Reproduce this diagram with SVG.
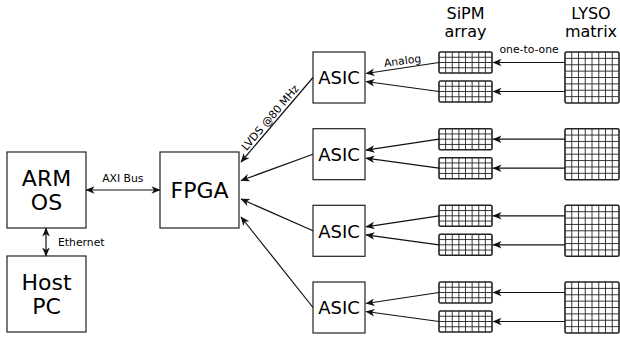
<svg xmlns="http://www.w3.org/2000/svg" xmlns:xlink="http://www.w3.org/1999/xlink" width="620" height="337" viewBox="0 0 620 337">
<style>
.box{fill:#fff;stroke:#222;stroke-width:1.2}
.big{font-family:"DejaVu Sans",sans-serif;font-size:22px;fill:#000;text-anchor:middle}
.mid{font-family:"DejaVu Sans",sans-serif;font-size:18px;fill:#000;text-anchor:middle}
.ttl{font-family:"DejaVu Sans",sans-serif;font-size:16px;fill:#000;text-anchor:middle}
.sm{font-family:"DejaVu Sans",sans-serif;font-size:10.8px;fill:#000}
.c{fill:none;stroke:#111;stroke-width:1.2}
.grid{fill:none;stroke:#222;stroke-width:0.9}
.frame{fill:none;stroke:#222;stroke-width:1.6}
</style>
<defs>
<marker id="ah" viewBox="-10 -5 11 10" refX="0" refY="0" markerWidth="11" markerHeight="10" markerUnits="userSpaceOnUse" orient="auto-start-reverse">
<path d="M0.5,0 L-8.5,-3.8 L-6,0 L-8.5,3.8 Z" fill="#111"/>
</marker>
<g id="sipm">
<path class="grid" d="M6.625,0V21M13.25,0V21M19.875,0V21M26.5,0V21M33.125,0V21M39.75,0V21M46.375,0V21M0,5.25H53M0,10.5H53M0,15.75H53"/>
<rect class="frame" x="0" y="0" width="53" height="21" rx="1.5"/>
</g>
<g id="lyso">
<path class="grid" d="M6.75,0V51M13.5,0V51M20.25,0V51M27,0V51M33.75,0V51M40.5,0V51M47.25,0V51M0,6.375H54M0,12.75H54M0,19.125H54M0,25.5H54M0,31.875H54M0,38.25H54M0,44.625H54"/>
<rect class="frame" x="0" y="0" width="54" height="51" rx="1.5"/>
</g>
</defs>
<rect width="620" height="337" fill="#fff"/>

<g id="arm"><rect class="box" x="7" y="152" width="79" height="76"/><text class="big" x="46.5" y="185.5">ARM</text><text class="big" x="46.5" y="210">OS</text></g>
<g id="host"><rect class="box" x="7" y="256" width="79" height="76"/><text class="big" x="46.5" y="290">Host</text><text class="big" x="46.5" y="313.5">PC</text></g>
<g id="fpga"><rect class="box" x="160" y="152" width="79" height="76"/><text class="big" x="199.5" y="198">FPGA</text></g>

<g id="asic1"><rect class="box" x="313" y="52" width="52" height="51"/><text class="mid" x="339" y="84.3">ASIC</text></g>
<g id="asic2"><rect class="box" x="313" y="128.7" width="52" height="51"/><text class="mid" x="339" y="161">ASIC</text></g>
<g id="asic3"><rect class="box" x="313" y="205.3" width="52" height="51"/><text class="mid" x="339" y="237.6">ASIC</text></g>
<g id="asic4"><rect class="box" x="313" y="282" width="52" height="51"/><text class="mid" x="339" y="314.3">ASIC</text></g>

<g id="sipm-title"><text class="ttl" x="465.5" y="18.5">SiPM</text><text class="ttl" x="465.5" y="36.5">array</text></g>
<g id="lyso-title"><text class="ttl" x="591" y="18.5">LYSO</text><text class="ttl" x="591" y="36.5">matrix</text></g>

<g id="sipm1a"><use xlink:href="#sipm" x="439" y="52"/></g>
<g id="sipm1b"><use xlink:href="#sipm" x="439" y="81"/></g>
<g id="sipm2a"><use xlink:href="#sipm" x="439" y="128.7"/></g>
<g id="sipm2b"><use xlink:href="#sipm" x="439" y="157.7"/></g>
<g id="sipm3a"><use xlink:href="#sipm" x="439" y="205.3"/></g>
<g id="sipm3b"><use xlink:href="#sipm" x="439" y="234.3"/></g>
<g id="sipm4a"><use xlink:href="#sipm" x="439" y="282"/></g>
<g id="sipm4b"><use xlink:href="#sipm" x="439" y="311"/></g>

<g id="lyso1"><use xlink:href="#lyso" x="565" y="52"/></g>
<g id="lyso2"><use xlink:href="#lyso" x="565" y="128.7"/></g>
<g id="lyso3"><use xlink:href="#lyso" x="565" y="205.3"/></g>
<g id="lyso4"><use xlink:href="#lyso" x="565" y="282"/></g>

<g id="connectors">
<line class="c" x1="86" y1="190" x2="160" y2="190" marker-start="url(#ah)" marker-end="url(#ah)"/>
<line class="c" x1="46" y1="228" x2="46" y2="256" marker-start="url(#ah)" marker-end="url(#ah)"/>
<line class="c" x1="313" y1="77.5" x2="241" y2="162" marker-end="url(#ah)"/>
<line class="c" x1="313" y1="154.2" x2="241" y2="180.5" marker-end="url(#ah)"/>
<line class="c" x1="313" y1="230.8" x2="241" y2="199" marker-end="url(#ah)"/>
<line class="c" x1="313" y1="307.5" x2="241" y2="217" marker-end="url(#ah)"/>

<line class="c" x1="439" y1="62.5" x2="366" y2="73.5" marker-end="url(#ah)"/>
<line class="c" x1="439" y1="91.5" x2="366" y2="81.5" marker-end="url(#ah)"/>
<line class="c" x1="439" y1="139.2" x2="366" y2="150.2" marker-end="url(#ah)"/>
<line class="c" x1="439" y1="168.2" x2="366" y2="158.2" marker-end="url(#ah)"/>
<line class="c" x1="439" y1="215.8" x2="366" y2="226.8" marker-end="url(#ah)"/>
<line class="c" x1="439" y1="244.8" x2="366" y2="234.8" marker-end="url(#ah)"/>
<line class="c" x1="439" y1="292.5" x2="366" y2="303.5" marker-end="url(#ah)"/>
<line class="c" x1="439" y1="321.5" x2="366" y2="311.5" marker-end="url(#ah)"/>

<line class="c" x1="565" y1="62.5" x2="493" y2="62.5" marker-end="url(#ah)"/>
<line class="c" x1="565" y1="91.5" x2="493" y2="91.5" marker-end="url(#ah)"/>
<line class="c" x1="565" y1="139.2" x2="493" y2="139.2" marker-end="url(#ah)"/>
<line class="c" x1="565" y1="168.2" x2="493" y2="168.2" marker-end="url(#ah)"/>
<line class="c" x1="565" y1="215.8" x2="493" y2="215.8" marker-end="url(#ah)"/>
<line class="c" x1="565" y1="244.8" x2="493" y2="244.8" marker-end="url(#ah)"/>
<line class="c" x1="565" y1="292.5" x2="493" y2="292.5" marker-end="url(#ah)"/>
<line class="c" x1="565" y1="321.5" x2="493" y2="321.5" marker-end="url(#ah)"/>

<text class="sm" x="122.8" y="182.3" text-anchor="middle">AXI Bus</text>
<text class="sm" x="58" y="246">Ethernet</text>
<text class="sm" x="273" y="120" text-anchor="middle" transform="rotate(-49.6 273 120)">LVDS @80 MHz</text>
<text class="sm" x="403" y="64.5" text-anchor="middle" transform="rotate(-7.8 403 64.5)">Analog</text>
<text class="sm" x="499.5" y="53">one-to-one</text>
</g>
</svg>
